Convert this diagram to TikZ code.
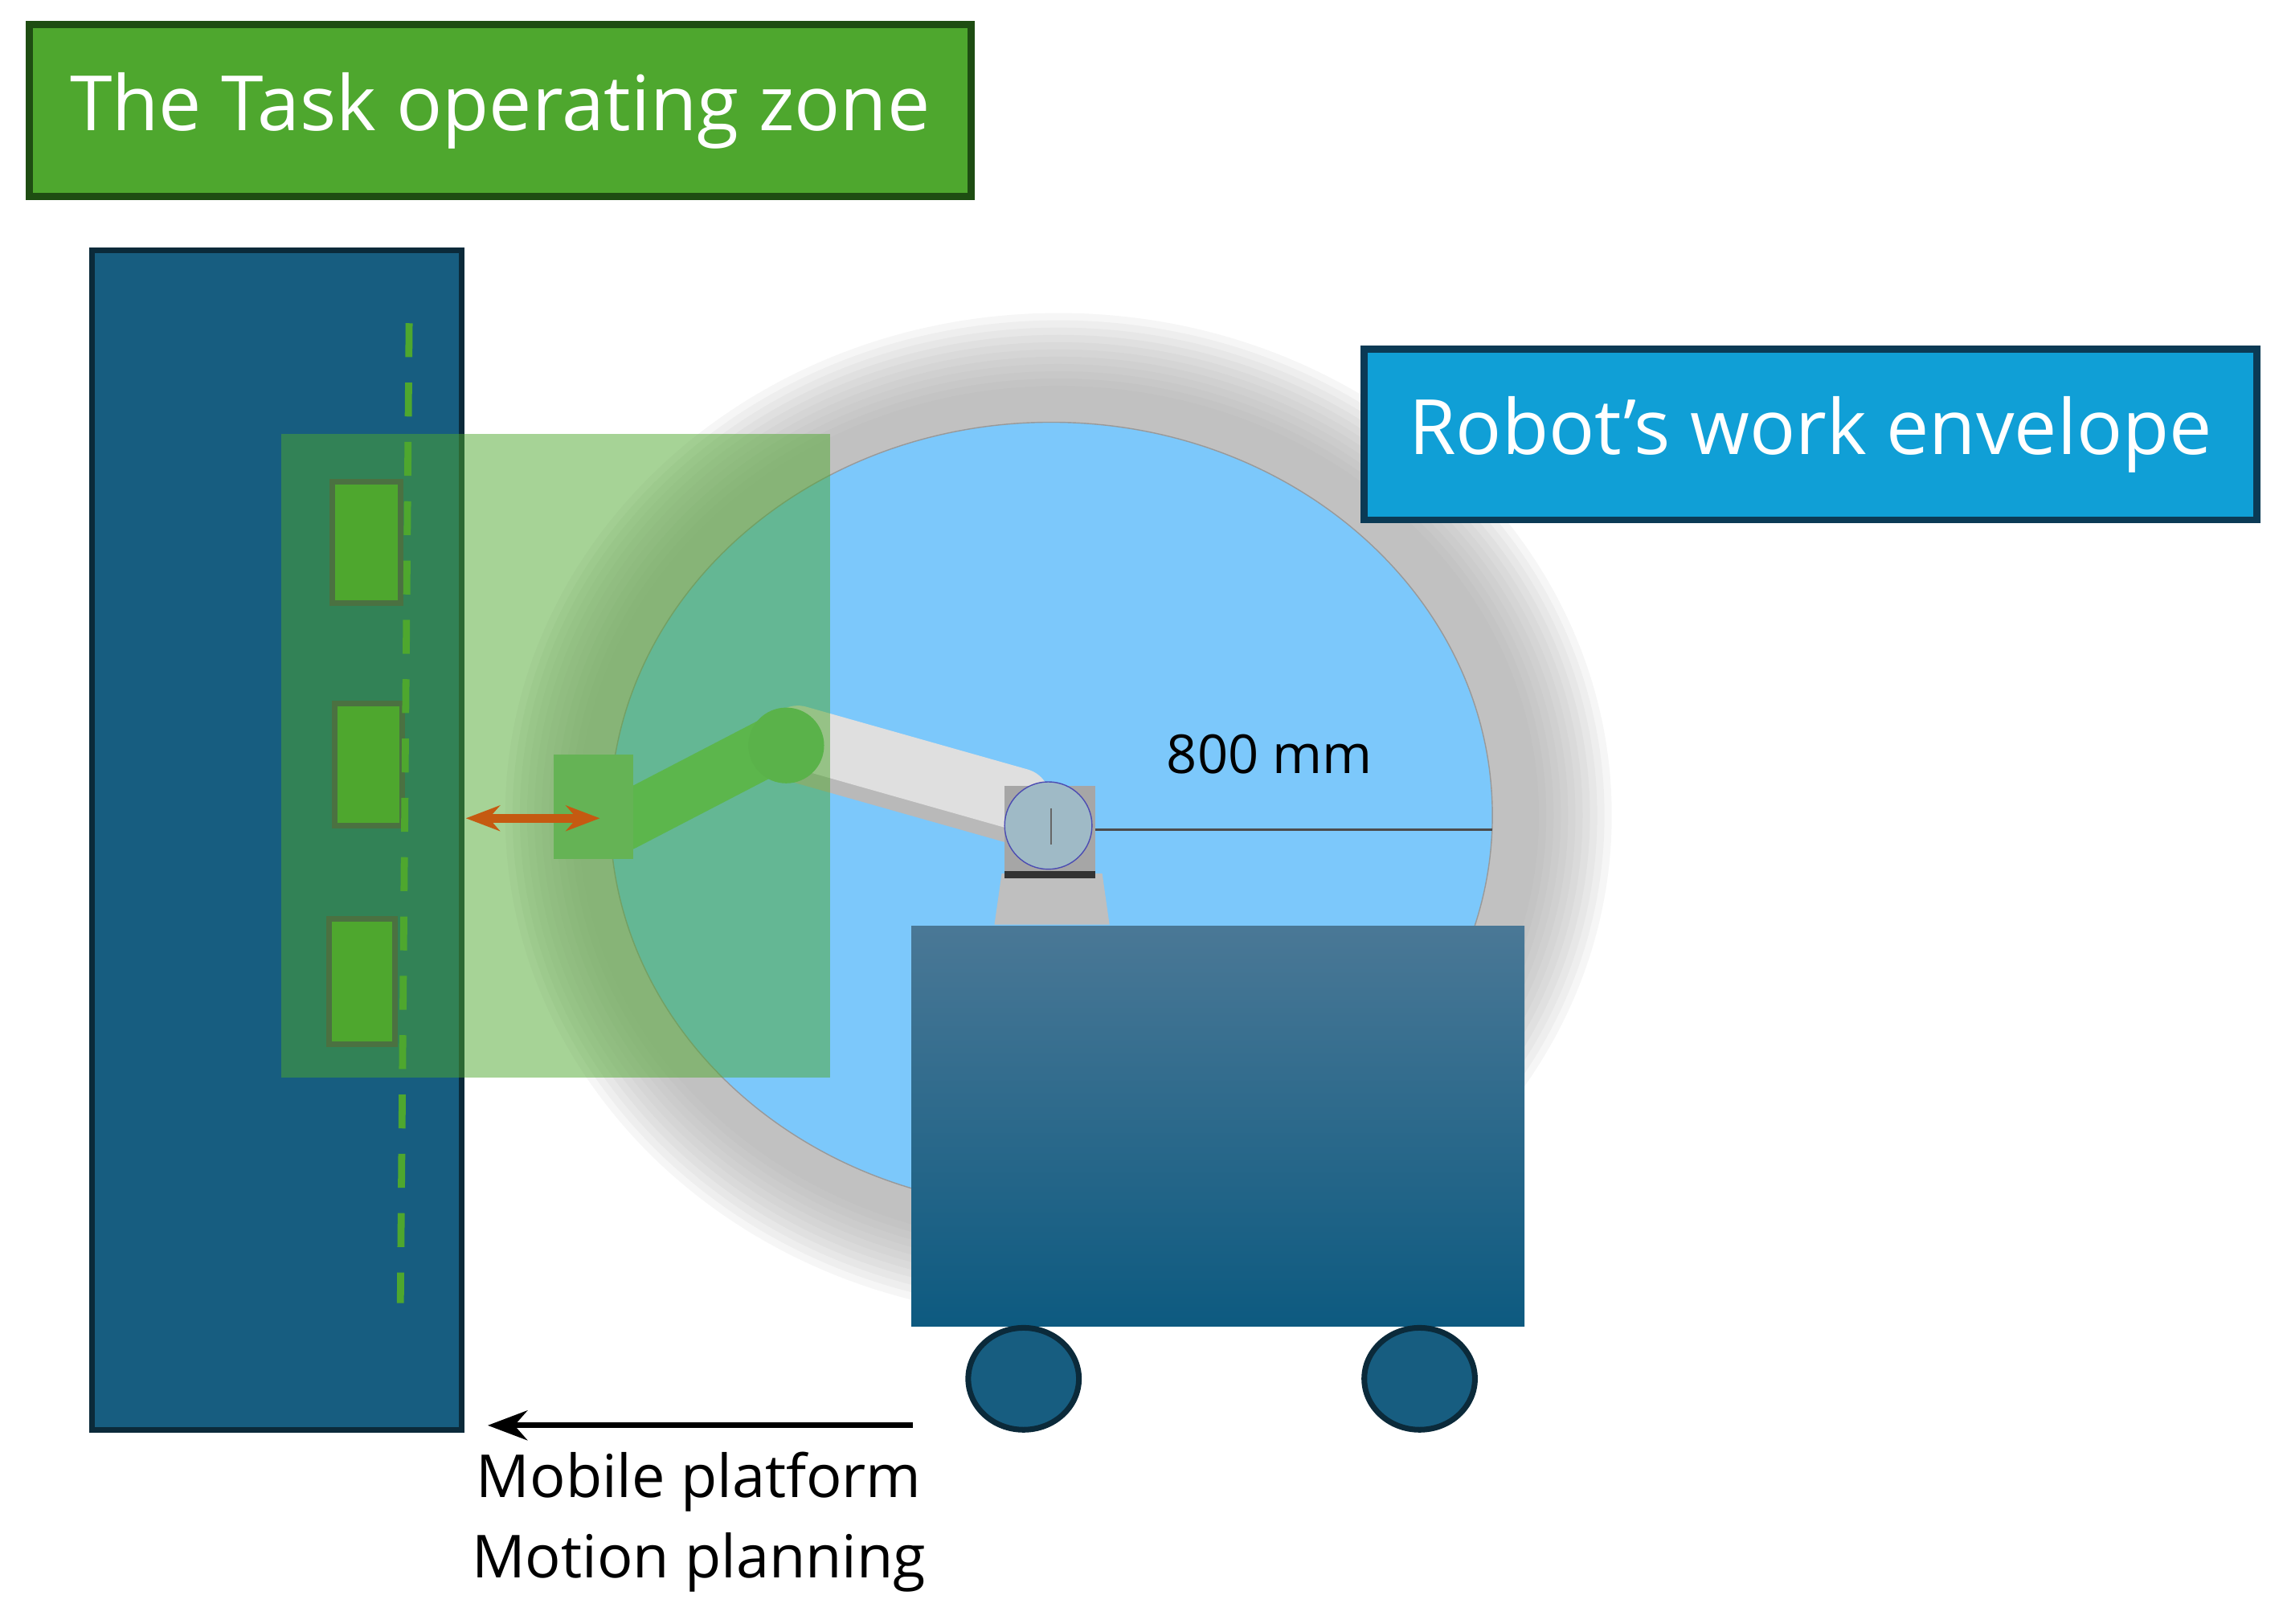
\documentclass[tikz,border=0pt]{standalone}
\usepackage{fontspec}
\setmainfont{Open Sans}
\usepackage{tikz}
\usetikzlibrary{calc,arrows.meta}
\definecolor{zonegreen}{HTML}{4EA72E}
\definecolor{zonedark}{HTML}{1E4D12}
\definecolor{shelfblue}{HTML}{175D80}
\definecolor{shelfdark}{HTML}{0B2A3A}
\definecolor{envblue}{HTML}{7CC8FB}
\definecolor{labelblue}{HTML}{109FD6}
\definecolor{labeldark}{HTML}{0B3A55}
\definecolor{carttop}{HTML}{4A7896}
\definecolor{cartbot}{HTML}{0D5A80}
\definecolor{pushorange}{HTML}{C55A11}
\tikzset{
  title box/.style={draw, line width=2.5pt, text=white, inner sep=0pt, font=\fontsize{27}{32}\selectfont},
  slot/.style={draw=zonedark!80, line width=2pt, fill=zonegreen},
  link/.style={line cap=round, line width=#1},
  plain text/.style={font=\fontsize{21}{25}\selectfont},
}
\begin{document}
\begin{tikzpicture}[x=0.018119cm, y=-0.018119cm]
    \useasboundingbox (0,0) rectangle (1568,1115.4);

    %Shelf
    \filldraw[line width=2pt, draw=shelfdark, fill=shelfblue] (63,172) rectangle (317,982);

    %Shadow round the envelope
    \foreach \r in {0,5,...,50}
        \fill[black!35, opacity=0.1] (727,560) ellipse [x radius=330+\r, y radius=295+\r];

    %Work envelope
    \filldraw[draw=gray!80, thin, fill=envblue] (722,560) ellipse [x radius=303, y radius=270];

    %Radius
    \coordinate (hub) at (722,570);
    \coordinate (rim) at (1025,570);
    \draw[black!70, thick] (hub) -- (rim);
    \node[plain text, font=\fontsize{19}{23}\selectfont] (radius) at (872,518) {800 mm};

    %Robot arm
    \draw[link=26pt, gray!55] (548,512) -- (700,555); %Upper arm
    \draw[link=22pt, gray!25] (548,506) -- (700,549);
    \draw[link=20pt, green!45!gray!80] (530,512) -- (428,565); %Forearm
    \fill[green!40!gray!85] (540,512) circle [radius=26]; %Elbow
    \fill[green!35!gray!75] (380,518) rectangle (435,590); %Wrist
    \fill[gray!50] (688,600) -- (757,600) -- (762,635) -- (683,635) -- cycle; %Base
    \fill[gray!70] (690,540) rectangle (752,600);
    \fill[black!80] (690,598) rectangle (752,603);
    \filldraw[draw=gray!60!blue, fill=cyan!30!gray!70] (720,567) circle [radius=30]; %Shoulder
    \draw[black!60] (722,555) -- (722,580);

    %Task zone
    \fill[zonegreen, opacity=0.5] (193,298) rectangle (570,740);
    \filldraw[slot] (228,331) rectangle (275,414);
    \filldraw[slot] (230,483) rectangle (276,567);
    \filldraw[slot] (226,631) rectangle (271,717);
    \draw[zonegreen, line width=2.5pt, dash pattern=on 12pt off 9pt] (281,222) -- (275,895);

    %Approach
    \coordinate (wall) at (320,562);
    \coordinate (tool) at (412,562);
    \draw[pushorange, line width=3pt, {Stealth[length=12pt]}-{Stealth[length=12pt]}] (wall) -- (tool);

    %Mobile platform
    \shade[top color=carttop, bottom color=cartbot] (626,636) rectangle (1047,911);
    \filldraw[line width=2pt, draw=shelfdark, fill=shelfblue] (703,947) ellipse [x radius=38, y radius=35];
    \filldraw[line width=2pt, draw=shelfdark, fill=shelfblue] (975,947) ellipse [x radius=38, y radius=35];

    %Labels
    \node[title box, draw=zonedark, fill=zonegreen, minimum width=11.72cm, minimum height=2.14cm] (zone) at (343.5,76) {The Task operating zone};
    \node[title box, draw=labeldark, fill=labelblue, minimum width=11.11cm, minimum height=2.12cm] (envelope) at (1243.5,298.5) {Robot’s work envelope};

    %Platform motion
    \coordinate (cart) at (627,979);
    \coordinate (shelf) at (335,979);
    \draw[line width=2pt, -{Stealth[length=14pt]}] (cart) -- (shelf);
    \node[plain text] (mobile) at (480,1018) {Mobile platform};
    \node[plain text] (planning) at (480,1073) {Motion planning};
\end{tikzpicture}
\end{document}
